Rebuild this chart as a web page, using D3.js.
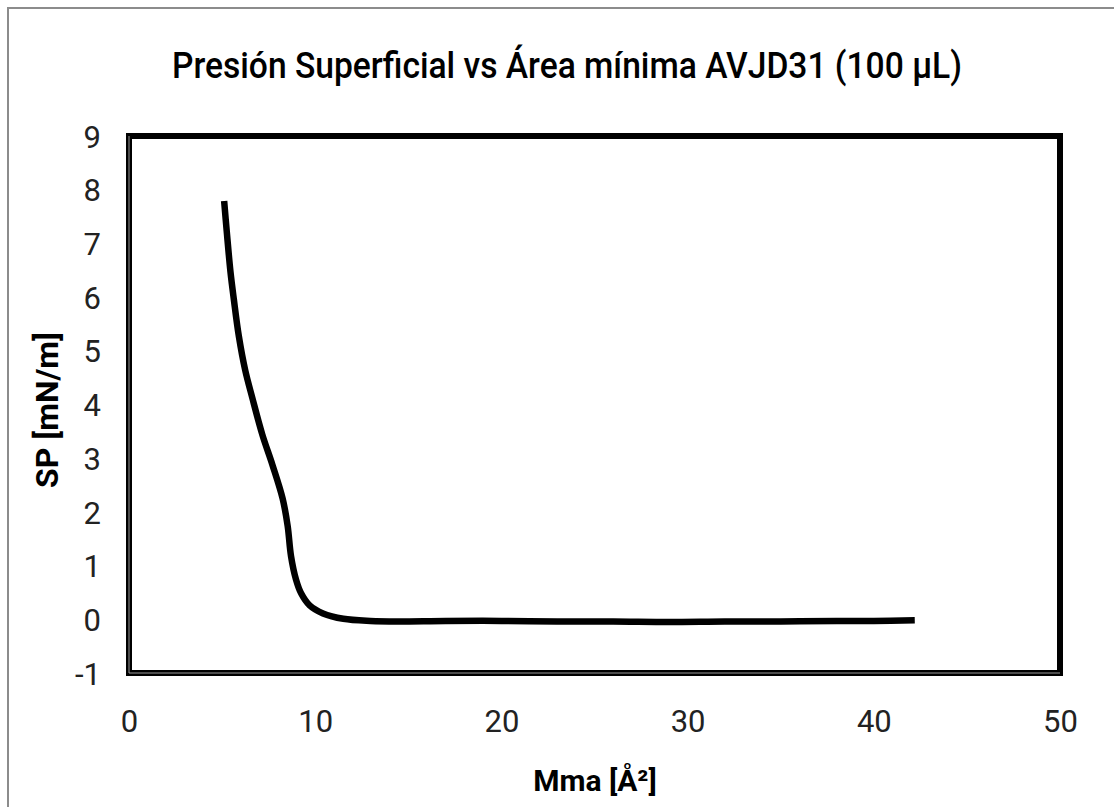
<!DOCTYPE html>
<html>
<head>
<meta charset="utf-8">
<script src="https://cdn.jsdelivr.net/npm/d3@7"></script>
<style>
  html, body { margin: 0; padding: 0; background: #fff; }
  svg { display: block; }
  text { font-family: Roboto, "Noto Sans", sans-serif; }
</style>
</head>
<body>
<svg id="chart" width="1114" height="807"></svg>
<script>
// data
const mma = [5.11, 5.25, 5.45, 5.63, 5.90, 6.24, 6.61, 7.16, 7.70, 8.25, 8.52, 8.70, 8.97, 9.25, 9.70,
  10.42, 11.51, 12.97, 14.42, 17, 20, 23, 26, 29, 32, 35, 38, 40, 42.2];
const sp = [7.79, 7.22, 6.47, 5.96, 5.27, 4.64, 4.14, 3.44, 2.88, 2.25, 1.74, 1.18, 0.74, 0.48, 0.26,
  0.11, 0.01, -0.03, -0.04, -0.03, -0.03, -0.04, -0.04, -0.05, -0.04, -0.04, -0.03, -0.03, -0.02];
const xTicks = [0, 10, 20, 30, 40, 50];
const yTicks = [-1, 0, 1, 2, 3, 4, 5, 6, 7, 8, 9];

const title = "Presión Superficial vs Área mínima AVJD31 (100 µL)";
const xTitle = "Mma [Å²]";
const yTitle = "SP [mN/m]";

const svg = d3.select("#chart");
const plot = { left: 129, right: 1060, top: 136, bottom: 673 };

const x = d3.scaleLinear().domain([0, 50]).range([plot.left, plot.right]);
const y = d3.scaleLinear().domain([-1, 9]).range([plot.bottom, plot.top]);

// outer chart border (only top/left visible in the picture)
svg.append("rect")
  .attr("x", 8).attr("y", 8)
  .attr("width", 1200).attr("height", 900)
  .attr("fill", "#fff")
  .attr("stroke", "#8c8c8c")
  .attr("stroke-width", 2);

// title (narrowed to the width of the original's condensed face)
svg.append("text")
  .attr("x", 567).attr("y", 78)
  .attr("text-anchor", "middle")
  .attr("font-size", 36)
  .attr("font-weight", 500)
  .attr("textLength", 790)
  .attr("lengthAdjust", "spacingAndGlyphs")
  .attr("fill", "#000")
  .text(title);

// axes (labels only)
const yAxis = svg.append("g")
  .attr("transform", "translate(" + plot.left + ",0)")
  .call(d3.axisLeft(y).tickValues(yTicks).tickSize(0).tickPadding(28).tickFormat((d) => String(d)));
yAxis.select(".domain").remove();

const xAxis = svg.append("g")
  .attr("transform", "translate(0," + plot.bottom + ")")
  .call(d3.axisBottom(x).tickValues(xTicks).tickSize(0).tickPadding(48).tickFormat((d) => String(d)));
xAxis.select(".domain").remove();

svg.selectAll(".tick text")
  .attr("font-size", 31)
  .attr("fill", "#222")
  .attr("dy", "0.36em")
  .style("font-family", "Roboto, sans-serif");

// axis titles
svg.append("text")
  .attr("x", 595).attr("y", 791)
  .attr("text-anchor", "middle")
  .attr("font-size", 30)
  .attr("font-weight", "bold")
  .text(xTitle);

svg.append("text")
  .attr("transform", "translate(58,410) rotate(-90)")
  .attr("text-anchor", "middle")
  .attr("font-size", 32)
  .attr("font-weight", "bold")
  .text(yTitle);

// curve
const line = d3.line()
  .x((d, i) => x(mma[i]))
  .y((d) => y(d))
  .curve(d3.curveCatmullRom.alpha(0.5));

svg.append("path")
  .datum(sp)
  .attr("d", line)
  .attr("fill", "none")
  .attr("stroke", "#000")
  .attr("stroke-width", 6.5)
  .attr("stroke-linecap", "butt")
  .attr("stroke-linejoin", "round");

// plot frame
svg.append("rect")
  .attr("x", plot.left).attr("y", plot.top)
  .attr("width", plot.right - plot.left)
  .attr("height", plot.bottom - plot.top)
  .attr("fill", "none")
  .attr("stroke", "#000")
  .attr("stroke-width", 6);

svg.append("path")
  .attr("d", d3.line()([[x(0), y(9)], [x(0), y(-1)], [x(50), y(-1)]]))
  .attr("fill", "none")
  .attr("stroke", "#9a9a9a")
  .attr("stroke-width", 1);
</script>
</body>
</html>
